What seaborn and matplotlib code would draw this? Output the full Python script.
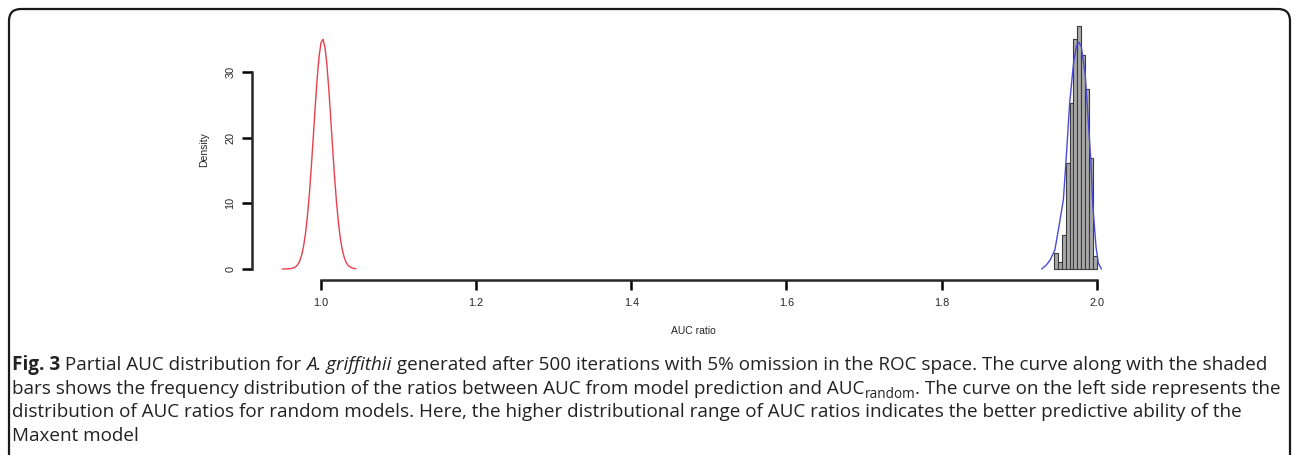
import numpy as np
import matplotlib
matplotlib.use("Agg")
import matplotlib.pyplot as plt
from matplotlib.patches import FancyBboxPatch
import seaborn as sns

# histogram of AUC ratios for the model (density per bin, bin width 0.005)
bin_edges = [1.945, 1.950, 1.955, 1.960, 1.965, 1.970, 1.975, 1.980, 1.985, 1.990, 1.995, 2.000]
bin_density = [2.4, 1.1, 5.2, 16.1, 25.3, 35.0, 37.0, 32.6, 27.4, 16.9, 2.0]

# density curve of the model AUC ratios (blue)
blue_x = [1.929, 1.935, 1.940, 1.946, 1.952, 1.957, 1.961, 1.965, 1.970, 1.974,
          1.977, 1.980, 1.985, 1.989, 1.992, 1.995, 1.999, 2.002, 2.006]
blue_y = [0.0, 0.6, 1.4, 2.9, 7.0, 10.6, 17.6, 25.2, 31.3, 34.1,
          34.5, 33.9, 29.8, 22.7, 17.2, 9.6, 3.4, 0.9, 0.0]

# density curve of the random-model AUC ratios (red)
red_x = [0.950, 0.955, 0.960, 0.965, 0.9675, 0.970, 0.9725, 0.975, 0.9775, 0.980,
         0.9825, 0.985, 0.9875, 0.990, 0.9925, 0.995, 0.9975, 1.000, 1.0025, 1.005,
         1.0075, 1.010, 1.0125, 1.015, 1.0175, 1.020, 1.0225, 1.025, 1.0275, 1.030,
         1.0325, 1.035, 1.040, 1.045]
red_y = [0.0, 0.01, 0.04, 0.18, 0.36, 0.68, 1.23, 2.13, 3.47, 5.45,
         8.13, 11.5, 15.6, 20.1, 24.7, 29.0, 32.4, 34.5, 35.0, 33.8,
         31.2, 27.4, 22.9, 18.3, 13.9, 10.1, 6.95, 4.57, 2.87, 1.71,
         0.98, 0.53, 0.14, 0.03]

x_ticks = [1.0, 1.2, 1.4, 1.6, 1.8, 2.0]
y_ticks = [0, 10, 20, 30]

sns.set_style("ticks")
plt.rcParams["font.family"] = ["Liberation Sans", "DejaVu Sans"]

W, H = 1295, 455
fig = plt.figure(figsize=(W / 100, H / 100), dpi=100)
ax = fig.add_axes([252 / W, 1 - 280 / H, (1134 - 252) / W, (280 - 19.5) / H])

bin_mid = [(a + b) / 2 for a, b in zip(bin_edges[:-1], bin_edges[1:])]
sns.histplot(x=bin_mid, weights=bin_density, bins=bin_edges, stat="count",
             color="#a9a9a9", edgecolor="#3a3a3a", linewidth=0.8, alpha=1, ax=ax)
sns.lineplot(x=blue_x, y=blue_y, color="#4a4ad8", linewidth=1.0, ax=ax, sort=False)
sns.lineplot(x=red_x, y=red_y, color="#e8404c", linewidth=1.0, ax=ax, sort=False)

ax.set_xlim(0.911, 2.048)
ax.set_ylim(-1.675, 38)
ax.set_xticks(x_ticks)
ax.set_xticklabels([f"{v:.1f}" for v in x_ticks])
ax.set_yticks(y_ticks)
ax.set_yticklabels([str(v) for v in y_ticks])
ax.tick_params(axis="both", length=7, width=1.8, labelsize=7.8, color="black")
ax.tick_params(axis="x", pad=6)
ax.tick_params(axis="y", pad=5, labelrotation=90)
for lab in ax.get_yticklabels():
    lab.set_verticalalignment("center")
ax.set_xlabel("AUC ratio", fontsize=7.5, labelpad=13)
ax.set_ylabel("Density", fontsize=7.5, labelpad=12)
sns.despine(ax=ax, trim=True)
for s in ["left", "bottom"]:
    ax.spines[s].set_linewidth(1.8)

# rounded frame around the figure panel
frame = FancyBboxPatch((0.09, -0.3), 12.81, 4.76,
                       boxstyle="round,pad=0,rounding_size=0.12",
                       transform=fig.dpi_scale_trans, fill=False,
                       edgecolor="#1a1a1a", linewidth=1.6, clip_on=False)
fig.patches.append(frame)

# caption, drawn as runs of differently styled text
caption = [
    [("Fig. 3", "bold"), (" Partial AUC distribution for ", ""), ("A. griffithii", "italic"),
     (" generated after 500 iterations with 5% omission in the ROC space. The curve along with the shaded", "")],
    [("bars shows the frequency distribution of the ratios between AUC from model prediction and AUC", ""),
     ("random", "sub"), (". The curve on the left side represents the", "")],
    [("distribution of AUC ratios for random models. Here, the higher distributional range of AUC ratios indicates the better predictive ability of the", "")],
    [("Maxent model", "")],
]
renderer = fig.canvas.get_renderer()
fs = 13.6
for i, runs in enumerate(caption):
    x = 12.0
    y = 370 + i * 23.7
    for txt, style in runs:
        kw = dict(fontsize=fs, family="Open Sans", color="#222222", va="baseline", ha="left")
        yy = y
        if style == "bold":
            kw["fontweight"] = "bold"
        elif style == "italic":
            kw["fontstyle"] = "italic"
        elif style == "sub":
            kw["fontsize"] = fs * 0.72
            yy = y + 4
        t = fig.text(x / W, 1 - yy / H, txt, **kw)
        x += t.get_window_extent(renderer).width

fig.savefig("out.png", dpi=100)
